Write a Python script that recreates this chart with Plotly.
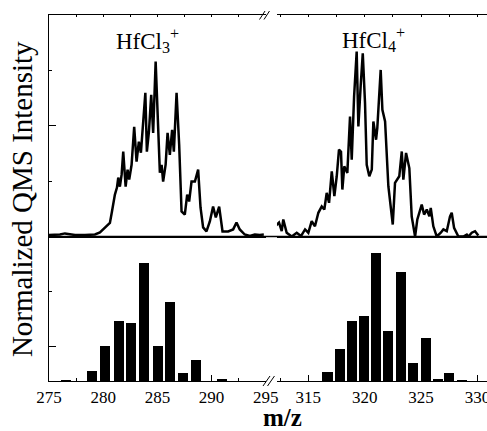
import plotly.graph_objects as go

# ---------------- data ----------------
# HfCl3+ region (left segment of the broken m/z axis)
mz_hfcl3 = [275.00, 276.01, 276.47, 277.40, 278.32, 279.24, 279.70, 279.98, 280.35, 280.62,
            280.81, 280.94, 281.08, 281.27, 281.39, 281.54, 281.70, 281.85, 282.07, 282.25,
            282.40, 282.62, 282.86, 283.08, 283.29, 283.48, 283.69, 283.89, 284.03, 284.22,
            284.43, 284.61, 284.84, 285.07, 285.23, 285.39, 285.53, 285.76, 285.94, 286.15,
            286.36, 286.52, 286.77, 287.01, 287.23, 287.53, 287.75, 287.93, 288.15, 288.46,
            288.76, 288.98, 289.22, 289.53, 289.84, 290.14, 290.39, 290.70, 291.01, 291.53,
            291.99, 292.30, 292.60, 293.06, 293.53, 293.99, 294.45, 294.82]
int_hfcl3 = [0.007, 0.009, 0.014, 0.007, 0.007, 0.009, 0.018, 0.032, 0.050, 0.061,
             0.113, 0.153, 0.189, 0.221, 0.266, 0.225, 0.279, 0.383, 0.225, 0.302,
             0.257, 0.324, 0.495, 0.338, 0.428, 0.378, 0.536, 0.649, 0.383, 0.473,
             0.640, 0.468, 0.790, 0.459, 0.288, 0.324, 0.248, 0.324, 0.468, 0.369,
             0.482, 0.383, 0.649, 0.414, 0.113, 0.099, 0.189, 0.158, 0.248, 0.248,
             0.302, 0.131, 0.041, 0.023, 0.068, 0.135, 0.086, 0.135, 0.023, 0.023,
             0.032, 0.063, 0.032, 0.009, 0.002, 0.009, 0.007, 0.009]

# HfCl4+ region (right segment)
mz_hfcl4 = [312.05, 312.40, 312.64, 312.78, 313.08, 313.53, 313.97, 314.35, 314.71, 315.00,
            315.30, 315.59, 315.89, 316.19, 316.42, 316.63, 316.84, 317.08, 317.31, 317.52,
            317.72, 317.90, 318.02, 318.19, 318.46, 318.70, 318.85, 319.06, 319.29, 319.44,
            319.65, 319.83, 320.03, 320.18, 320.41, 320.63, 320.77, 321.01, 321.12, 321.42,
            321.57, 321.81, 322.10, 322.49, 322.69, 323.07, 323.29, 323.43, 323.67, 323.96,
            324.17, 324.47, 324.67, 324.91, 325.06, 325.27, 325.51, 325.74, 325.86, 326.09,
            326.39, 326.75, 326.98, 327.28, 327.57, 327.72, 327.93, 328.31, 328.75, 329.06,
            329.20, 329.50, 329.79, 330.08]
int_hfcl4 = [0.045, 0.063, 0.024, 0.077, 0.017, 0.000, 0.017, 0.002, 0.032, 0.017,
             0.069, 0.046, 0.107, 0.136, 0.122, 0.197, 0.152, 0.294, 0.182, 0.272,
             0.392, 0.383, 0.212, 0.317, 0.287, 0.542, 0.347, 0.632, 0.835, 0.497,
             0.685, 0.827, 0.602, 0.324, 0.272, 0.302, 0.519, 0.437, 0.490, 0.752,
             0.572, 0.519, 0.227, 0.054, 0.242, 0.272, 0.384, 0.257, 0.377, 0.309,
             0.091, 0.000, 0.077, 0.122, 0.144, 0.099, 0.122, 0.091, 0.129, 0.046,
             0.000, 0.017, 0.032, 0.024, 0.091, 0.107, 0.039, 0.000, 0.000, 0.009,
             0.000, 0.017, 0.024, 0.005]

# calculated isotope patterns (bars)
bar_mz_hfcl3 = [276.6, 279.0, 280.2, 281.5, 282.6, 283.8, 285.1, 286.2, 287.4, 288.6, 291.0]
bar_int_hfcl3 = [0.005, 0.080, 0.275, 0.475, 0.457, 0.925, 0.275, 0.618, 0.068, 0.164, 0.016]
bar_mz_hfcl4 = [316.7, 317.8, 318.9, 319.96, 321.0, 322.1, 323.2, 324.3, 325.4, 326.5, 327.5, 328.6]
bar_int_hfcl4 = [0.072, 0.255, 0.468, 0.512, 1.000, 0.390, 0.850, 0.143, 0.341, 0.023, 0.065, 0.004]

left_ticks = [275, 280, 285, 290, 295]
right_ticks = [315, 320, 325, 330]

# ---------------- figure ----------------
FONT = "Liberation Serif"
BLACK = "#000000"

fig = go.Figure()
fig.add_trace(go.Scatter(x=mz_hfcl3, y=int_hfcl3, mode="lines",
                         line=dict(color=BLACK, width=2.5), xaxis="x", yaxis="y"))
fig.add_trace(go.Scatter(x=mz_hfcl4, y=int_hfcl4, mode="lines",
                         line=dict(color=BLACK, width=2.5), xaxis="x2", yaxis="y2"))
fig.add_trace(go.Bar(x=bar_mz_hfcl3, y=bar_int_hfcl3, width=0.92,
                     marker=dict(color=BLACK, line=dict(width=0)), xaxis="x3", yaxis="y3"))
fig.add_trace(go.Bar(x=bar_mz_hfcl4, y=bar_int_hfcl4, width=0.89,
                     marker=dict(color=BLACK, line=dict(width=0)), xaxis="x4", yaxis="y4"))

split = 0.3948
left_dom = [0, 0.4954]
right_dom = [0.5205, 1]
left_range = [275, 295.02]
right_range = [312.22, 330.85]

axis_common = dict(showgrid=False, zeroline=False, linecolor=BLACK, linewidth=1.3,
                   tickcolor=BLACK, tickwidth=1, automargin=False)

fig.update_layout(
    width=487, height=431,
    margin=dict(l=49, r=0, t=15, b=50, autoexpand=False),
    paper_bgcolor="white", plot_bgcolor="white",
    showlegend=False,
    font=dict(family=FONT, color=BLACK, size=17),
    bargap=0,
    # upper panels
    xaxis=dict(domain=left_dom, range=left_range, anchor="y", side="top",
               showline=True, mirror=True, ticks="inside", ticklen=2, dtick=2.5, tick0=275,
               showticklabels=False, **axis_common),
    yaxis=dict(domain=[split, 1], range=[0, 1], anchor="x", showline=True,
               ticks="inside", ticklen=7, tickmode="array", tickvals=[0.5],
               minor=dict(ticks="inside", ticklen=3, tickmode="array", tickvals=[0.25, 0.75],
                          tickcolor=BLACK),
               showticklabels=False, **axis_common),
    xaxis2=dict(domain=right_dom, range=right_range, anchor="y2", side="top",
                showline=True, mirror=True, ticks="inside", ticklen=2, dtick=2.5, tick0=315,
                showticklabels=False, **axis_common),
    yaxis2=dict(domain=[split, 1], range=[0, 1], anchor="x2", visible=False),
    # lower panels
    xaxis3=dict(domain=left_dom, range=left_range, anchor="y3", showline=True,
                ticks="inside", ticklen=6, tickmode="array", tickvals=left_ticks,
                minor=dict(ticks="inside", ticklen=3, dtick=2.5, tick0=275, tickcolor=BLACK),
                ticklabeloverflow="allow",
                tickfont=dict(family=FONT, size=17, color=BLACK), **axis_common),
    yaxis3=dict(domain=[0, split], range=[0, 1.126], anchor="x3", showline=True,
                ticks="inside", ticklen=7, tickmode="array", tickvals=[0.265],
                minor=dict(ticks="inside", ticklen=3, tickmode="array", tickvals=[0.694],
                           tickcolor=BLACK),
                showticklabels=False, **axis_common),
    xaxis4=dict(domain=right_dom, range=right_range, anchor="y4", showline=True,
                ticks="inside", ticklen=6, tickmode="array", tickvals=right_ticks,
                minor=dict(ticks="inside", ticklen=3, dtick=2.5, tick0=315, tickcolor=BLACK),
                ticklabeloverflow="allow",
                tickfont=dict(family=FONT, size=17, color=BLACK), **axis_common),
    yaxis4=dict(domain=[0, split], range=[0, 1.126], anchor="x4", visible=False),
)

# divider between panels (continuous) and axis-break marks
shapes = [
    dict(type="line", xref="paper", yref="paper", x0=0, x1=1, y0=split, y1=split,
         line=dict(color=BLACK, width=1.3)),
    # top break
    dict(type="line", xref="paper", yref="paper", x0=0.4806, y0=0.9877, x1=0.4932, y1=1.0109,
         line=dict(color=BLACK, width=1)),
    dict(type="line", xref="paper", yref="paper", x0=0.4909, y0=0.9877, x1=0.5034, y1=1.0109,
         line=dict(color=BLACK, width=1)),
    # bottom break
    dict(type="line", xref="paper", yref="paper", x0=0.4886, y0=-0.0137, x1=0.5046, y1=0.0137,
         line=dict(color=BLACK, width=1)),
    dict(type="line", xref="paper", yref="paper", x0=0.4989, y0=-0.0137, x1=0.5148, y1=0.0137,
         line=dict(color=BLACK, width=1)),
]
fig.update_layout(shapes=shapes)

annotations = [
    dict(text="Normalized QMS Intensity", xref="paper", yref="paper", x=-0.0616, y=0.497,
         textangle=-90, showarrow=False, xanchor="center", yanchor="middle",
         font=dict(family=FONT, size=29, color=BLACK)),
    dict(text="<b>m/z</b>", xref="paper", yref="paper", x=0.532, y=-0.100,
         showarrow=False, xanchor="center", yanchor="middle",
         font=dict(family=FONT, size=25, color=BLACK)),
    dict(text="HfCl<sub>3</sub><sup>+</sup>", xref="paper", yref="paper", x=0.225, y=0.929,
         showarrow=False, xanchor="center", yanchor="middle",
         font=dict(family=FONT, size=23, color=BLACK)),
    dict(text="HfCl<sub>4</sub><sup>+</sup>", xref="paper", yref="paper", x=0.742, y=0.934,
         showarrow=False, xanchor="center", yanchor="middle",
         font=dict(family=FONT, size=23, color=BLACK)),
]
fig.update_layout(annotations=annotations)

fig.write_html("out.html")
